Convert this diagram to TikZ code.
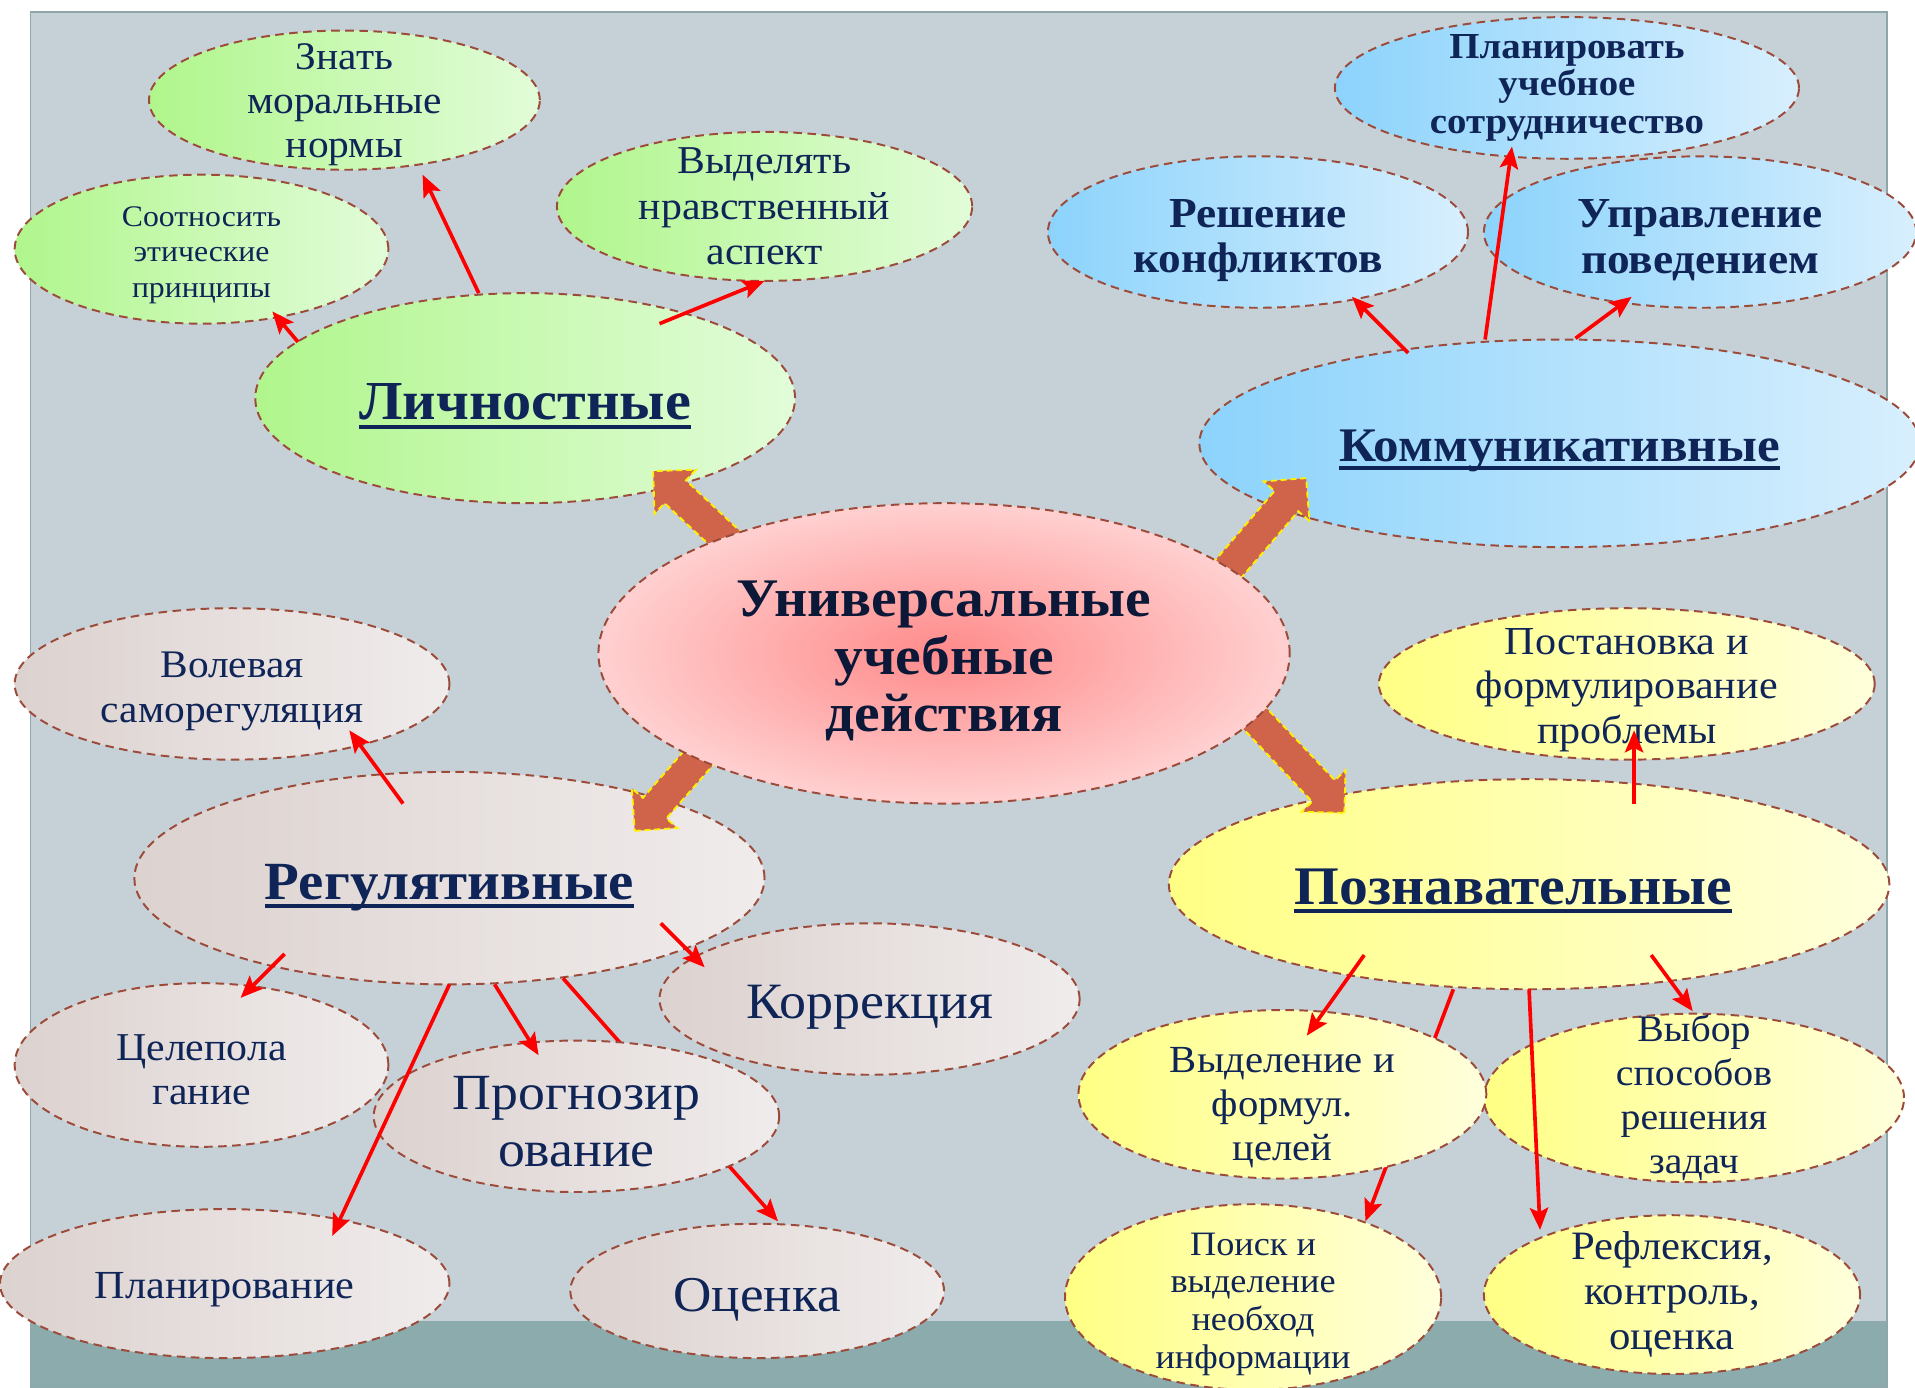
\documentclass[tikz,border=0pt]{standalone}
\usepackage{fontspec}
\setmainfont{Liberation Serif}[FakeStretch=1.06]
\usetikzlibrary{shapes.geometric,shapes.arrows,arrows.meta,calc}

\definecolor{panelgray}{HTML}{C6D1D7}
\definecolor{bandteal}{HTML}{8BABAC}
\definecolor{panelline}{HTML}{8FA7AB}
\definecolor{dashbrown}{HTML}{9C4A3A}
\definecolor{navytext}{HTML}{0F2457}
\definecolor{coretext}{HTML}{0B1838}
\definecolor{arrowbrown}{HTML}{D0644A}
\definecolor{greenL}{HTML}{B0F68C}
\definecolor{greenR}{HTML}{E2FCD9}
\definecolor{blueL}{HTML}{8CD3FC}
\definecolor{blueR}{HTML}{D8EFFD}
\definecolor{rosyL}{HTML}{DCD2CF}
\definecolor{rosyR}{HTML}{F0ECEC}
\definecolor{yellowL}{HTML}{FFFF84}
\definecolor{yellowR}{HTML}{FFFFDC}
\definecolor{coreIn}{HTML}{FF8A8A}
\definecolor{coreOut}{HTML}{FFD0D0}

% thick underline for the four group titles
\newsavebox\ulbox
\newcommand{\ulhead}[1]{\sbox\ulbox{#1}\rlap{\rule[-0.17em]{\wd\ulbox}{0.075em}}\usebox\ulbox}
% taller first line, pushes the text a little down in its ellipse
\newcommand{\dropline}[1][10pt]{\rule{0pt}{\dimexpr0.72em+#1\relax}}

\begin{document}
\begin{tikzpicture}[x=1pt,y=-1pt,
    leaf/.style={ellipse, draw=dashbrown, dash pattern=on 7pt off 4.5pt, line width=1.6pt,
      inner sep=-20pt, align=center, text=navytext},
    persbox/.style={leaf, left color=greenL, right color=greenR},
    commbox/.style={leaf, left color=blueL, right color=blueR},
    regbox/.style={leaf, left color=rosyL, right color=rosyR},
    cogbox/.style={leaf, left color=yellowL, right color=yellowR},
    corebox/.style={leaf, inner color=coreIn, outer color=coreOut, text=coretext},
    redarrow/.style={draw=red, line width=3pt, -{Stealth[length=18pt,width=15pt,inset=3.5pt]}},
    bigarrow/.style={single arrow, draw=yellow, dash pattern=on 5pt off 3pt, line width=1.5pt,
      fill=arrowbrown, inner sep=0pt, inner ysep=12pt, single arrow head extend=12pt, anchor=tail}]

    \useasboundingbox (0,0) rectangle (1568,1136);

    % slide background
    \fill[panelgray] (25,10) rectangle (1545,1136);
    \fill[bandteal] (25,1082) rectangle (1545,1136);
    \draw[panelline, line width=1.2pt] (25,10) rectangle (1545,1136);

    % personal
    \node[persbox, minimum width=320pt, minimum height=114pt, font=\fontsize{32}{36}\selectfont]
        (znat) at (282,82) {\dropline[6pt]Знать\\моральные\\нормы};
    \node[persbox, minimum width=306pt, minimum height=122pt, font=\fontsize{24.5}{29}\selectfont]
        (sootn) at (165,204) {\dropline[8pt]Соотносить\\этические\\принципы};
    \node[persbox, minimum width=340pt, minimum height=122pt, font=\fontsize{32.3}{37}\selectfont]
        (vydel) at (626,169) {Выделять\\нравственный\\аспект};
    \node[persbox, minimum width=442pt, minimum height=172pt, font=\bfseries\fontsize{45}{48}\selectfont]
        (lich) at (430,326) {\dropline\ulhead{Личностные}};

    % communicative
    \node[commbox, minimum width=380pt, minimum height=116pt, font=\bfseries\fontsize{30}{31}\selectfont]
        (plan) at (1283,72) {Планировать\\учебное\\сотрудничество};
    \node[commbox, minimum width=344pt, minimum height=124pt, font=\bfseries\fontsize{35}{37}\selectfont]
        (resh) at (1030,190) {\dropline[11pt]Решение\\конфликтов};
    \node[commbox, minimum width=354pt, minimum height=124pt, font=\bfseries\fontsize{35}{37}\selectfont]
        (upr) at (1392,190) {\dropline[11pt]Управление\\поведением};
    \node[commbox, minimum width=590pt, minimum height=170pt, font=\bfseries\fontsize{39.5}{42}\selectfont]
        (komm) at (1277,363) {\dropline\ulhead{Коммуникативные}};

    % regulative
    \node[regbox, minimum width=356pt, minimum height=124pt, font=\fontsize{32}{37}\selectfont]
        (vol) at (190,560) {\dropline Волевая\\саморегуляция};
    \node[regbox, minimum width=516pt, minimum height=174pt, font=\bfseries\fontsize{44}{46}\selectfont]
        (reg) at (368,719) {\dropline[12pt]\ulhead{Регулятивные}};
    \node[regbox, minimum width=344pt, minimum height=124pt, font=\fontsize{41.7}{44}\selectfont]
        (korr) at (712,818) {\dropline Коррекция};
    \node[regbox, minimum width=306pt, minimum height=134pt, font=\fontsize{32.3}{36}\selectfont]
        (cel) at (165,872) {\dropline[6pt]Целепола\\гание};
    \node[regbox, minimum width=368pt, minimum height=122pt, font=\fontsize{32.6}{34}\selectfont]
        (planir) at (184,1051) {\dropline[8pt]Планирование};
    \node[regbox, minimum width=306pt, minimum height=110pt, font=\fontsize{41}{44}\selectfont]
        (ocen) at (620,1057) {\dropline[12pt]Оценка};

    % cognitive
    \node[cogbox, minimum width=406pt, minimum height=124pt, font=\fontsize{32.5}{36.5}\selectfont]
        (post) at (1332,560) {\dropline[8pt]Постановка и\\формулирование\\проблемы};
    \node[cogbox, minimum width=590pt, minimum height=172pt, font=\bfseries\fontsize{44.5}{46}\selectfont]
        (pozn) at (1252,724) {\dropline[8pt]\ulhead{Познавательные}\hspace*{26pt}};
    \node[cogbox, minimum width=344pt, minimum height=138pt, font=\fontsize{30.7}{36}\selectfont]
        (vybor) at (1387,899) {Выбор\\способов\\решения\\задач};
    \node[cogbox, minimum width=308pt, minimum height=152pt, font=\fontsize{28}{31}\selectfont]
        (poisk) at (1026,1062) {\dropline Поиск и\\выделение\\необход\\информации};
    \node[cogbox, minimum width=308pt, minimum height=130pt, font=\fontsize{33}{37}\selectfont]
        (refl) at (1369,1060) {Рефлексия,\\контроль,\\оценка};

    % these two run behind the next ellipses
    \draw[redarrow] ($(reg)+(93,82)$) -- ($(ocen)+(17,-57)$);
    \draw[redarrow] ($(pozn)+(-62,86)$) -- ($(poisk)+(92,-62)$);

    \node[regbox, minimum width=332pt, minimum height=124pt, font=\fontsize{41.5}{46}\selectfont]
        (prog) at (472,914) {\dropline[6pt]Прогнозир\\ование};
    \node[cogbox, minimum width=334pt, minimum height=138pt, font=\fontsize{31.4}{36}\selectfont]
        (vydf) at (1050,896) {\rule{0pt}{42pt}Выделение и\\формул.\\целей};

    % wide arrows out of the centre
    \node[bigarrow, rotate=136.9, minimum height=105pt] (toLich) at (612,458) {};
    \node[bigarrow, rotate=49.4, minimum height=129pt] (toKomm) at (985,490) {};
    \node[bigarrow, rotate=228.8, minimum height=106pt] (toReg) at (590,600) {};
    \node[bigarrow, rotate=-46.6, minimum height=124pt] (toPozn) at (1015,575) {};

    \node[corebox, minimum width=566pt, minimum height=246pt, font=\bfseries\fontsize{44.5}{47}\selectfont]
        (uud) at (773,535) {\dropline Универсальные\\учебные\\действия};

    % thin red arrows
    \draw[redarrow] ($(lich)+(-38,-86)$) -- ($(znat)+(64,61)$);
    \draw[redarrow] ($(lich)+(-186,-46)$) -- ($(sootn)+(58,51)$);
    \draw[redarrow] ($(lich)+(110,-61)$) -- ($(vydel)+(0,61)$);

    \draw[redarrow] ($(komm)+(-124,-74)$) -- ($(resh)+(77,53)$);
    \draw[redarrow] ($(komm)+(-61,-85)$) -- ($(plan)+(-45,48)$);
    \draw[redarrow] ($(komm)+(13,-86)$) -- ($(upr)+(-56,53)$);

    \draw[redarrow] ($(reg)+(-38,-61)$) -- ($(vol)+(96,38)$);
    \draw[redarrow] ($(reg)+(-135,62)$) -- ($(cel)+(32,-55)$);
    \draw[redarrow] ($(reg)+(173,37)$) -- ($(korr)+(-135,-26)$);
    \draw[redarrow] ($(reg)+(37,87)$) -- ($(prog)+(-31,-50)$);
    \draw[redarrow] ($(reg)+(0,87)$) -- ($(planir)+(88,-39)$);

    \draw[redarrow] ($(pozn)+(86,-66)$) -- ($(post)+(6,38)$);
    \draw[redarrow] ($(pozn)+(-135,58)$) -- ($(vydf)+(20,-48)$);
    \draw[redarrow] ($(pozn)+(0,86)$) -- ($(refl)+(-108,-53)$);
    \draw[redarrow] ($(pozn)+(100,58)$) -- ($(vybor)+(-1,-71)$);

\end{tikzpicture}
\end{document}
